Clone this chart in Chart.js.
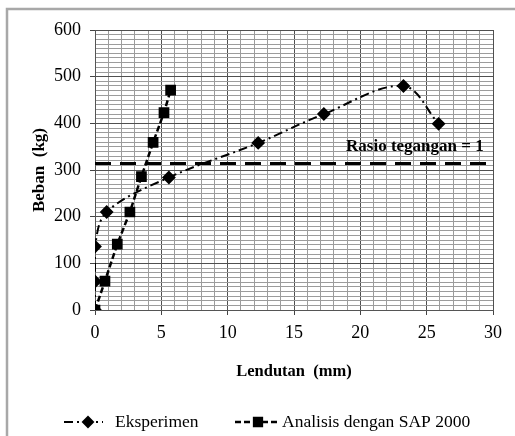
<!DOCTYPE html>
<html>
<head>
<meta charset="utf-8">
<script src="https://cdn.jsdelivr.net/npm/chart.js@4.4.0/dist/chart.umd.min.js"></script>
<style>
  html, body { margin: 0; padding: 0; background: #fff; }
  #wrap { position: relative; width: 515px; height: 436px; }
  canvas { display: block; }
</style>
</head>
<body>
<div id="wrap"><canvas id="c" width="515" height="436"></canvas></div>
<script>
// ---- data ----
const eksX = [0, 0, 0, 0.88, 5.57, 12.3, 17.25, 23.25, 25.9];
const eksY = [0, 61, 136, 210, 284, 358, 420, 480, 399];
const sapX = [0, 0.75, 1.68, 2.63, 3.5, 4.38, 5.2, 5.7];
const sapY = [0, 62, 141, 210, 286, 359, 423, 471];
const rasioX = [0, 30];
const rasioY = [314, 314];
const xTickLabels = [0, 5, 10, 15, 20, 25, 30];
const yTickLabels = [0, 100, 200, 300, 400, 500, 600];
const seriesNames = ['Eksperimen', 'Analisis dengan SAP 2000'];
const rasioLabel = 'Rasio tegangan = 1';
const xTitle = 'Lendutan  (mm)';
const yTitle = 'Beban  (kg)';

const toPts = (xs, ys) => xs.map((x, i) => ({ x: x, y: ys[i] }));

const SERIF = '"Liberation Serif", "Times New Roman", serif';
const EKS_DASH = [9, 4, 2, 4];
const SAP_DASH = [6, 3];

const decorPlugin = {
  id: 'decor',
  beforeDraw(chart) {
    const ctx = chart.ctx;
    ctx.save();
    ctx.fillStyle = '#fff';
    ctx.fillRect(0, 0, chart.width, chart.height);
    ctx.strokeStyle = '#a8a8a8';
    ctx.lineWidth = 2.5;
    ctx.beginPath();
    ctx.moveTo(7, 440);
    ctx.lineTo(7, 9);
    ctx.lineTo(520, 9);
    ctx.stroke();
    ctx.restore();
  },
  afterDatasetsDraw(chart) {
    const ctx = chart.ctx;
    const xs = chart.scales.x, ys = chart.scales.y;
    ctx.save();
    ctx.font = 'bold 17px ' + SERIF;
    ctx.fillStyle = '#000';
    ctx.textAlign = 'right';
    ctx.textBaseline = 'middle';
    ctx.fillText(rasioLabel, xs.getPixelForValue(29.3), ys.getPixelForValue(rasioY[0]) - 17);
    ctx.restore();
  },
  afterDraw(chart) {
    const ctx = chart.ctx;
    const ly = 422;
    const items = [
      { x0: 64, x1: 103, mx: 88, tx: 115, dash: EKS_DASH, w: 2, style: 'rectRot', r: 5 },
      { x0: 235, x1: 278, mx: 258, tx: 282, dash: SAP_DASH, w: 2.5, style: 'rect', r: 5.5 }
    ];
    ctx.save();
    items.forEach((it, i) => {
      ctx.strokeStyle = '#000';
      ctx.lineWidth = it.w;
      ctx.setLineDash(it.dash);
      ctx.beginPath();
      ctx.moveTo(it.x0, ly);
      ctx.lineTo(it.x1, ly);
      ctx.stroke();
      ctx.setLineDash([]);
      Chart.helpers.drawPoint(ctx, { pointStyle: it.style, radius: it.r, borderWidth: 1 }, it.mx, ly);
      ctx.fillStyle = '#000';
      ctx.fill();
      ctx.font = '17.5px ' + SERIF;
      ctx.textAlign = 'left';
      ctx.textBaseline = 'middle';
      ctx.fillText(seriesNames[i], it.tx, ly);
    });
    ctx.restore();
  }
};

new Chart(document.getElementById('c'), {
  type: 'line',
  data: {
    datasets: [
      {
        label: seriesNames[0],
        data: toPts(eksX, eksY),
        borderColor: '#000',
        backgroundColor: '#000',
        borderWidth: 2,
        borderDash: EKS_DASH,
        tension: 0.35,
        pointStyle: 'rectRot',
        pointRadius: 5.5,
        pointBackgroundColor: '#000',
        pointBorderColor: '#000',
        fill: false,
        order: 1
      },
      {
        label: seriesNames[1],
        data: toPts(sapX, sapY),
        borderColor: '#000',
        backgroundColor: '#000',
        borderWidth: 2.5,
        borderDash: SAP_DASH,
        tension: 0,
        pointStyle: 'rect',
        pointRadius: 5.8,
        pointBackgroundColor: '#000',
        pointBorderColor: '#000',
        fill: false,
        order: 0
      },
      {
        label: 'rasio',
        data: toPts(rasioX, rasioY),
        borderColor: '#000',
        borderWidth: 3,
        borderDash: [16, 9],
        pointRadius: 0,
        fill: false,
        order: 2
      }
    ]
  },
  options: {
    responsive: false,
    animation: false,
    devicePixelRatio: 1,
    layout: { padding: { left: 0, top: 30, right: 22, bottom: 51 } },
    plugins: {
      legend: { display: false },
      tooltip: { enabled: false }
    },
    scales: {
      x: {
        type: 'linear',
        min: 0, max: 30,
        afterFit(s) { s.height = 75; },
        border: { color: '#555', width: 1 },
        grid: {
          color: c => (c.tick && c.tick.value % 5 === 0) ? '#505050' : '#9c9c9c',
          tickColor: c => (c.tick && c.tick.value % 5 === 0) ? '#444' : 'rgba(0,0,0,0)',
          tickLength: 5,
          lineWidth: 1
        },
        ticks: {
          stepSize: 1,
          maxTicksLimit: 1000,
          autoSkip: false,
          maxRotation: 0,
          padding: 7,
          color: '#000',
          font: { family: SERIF, size: 18 },
          callback: v => xTickLabels.includes(v) ? String(v) : ''
        },
        title: {
          display: true,
          text: xTitle,
          color: '#000',
          font: { family: SERIF, size: 16.5, weight: 'bold' },
          padding: { top: 0, bottom: 3 }
        }
      },
      y: {
        type: 'linear',
        min: 0, max: 600,
        afterFit(s) { s.width = 95; },
        border: { color: '#555', width: 1 },
        grid: {
          color: c => (c.tick && c.tick.value % 100 === 0) ? '#505050' : '#9c9c9c',
          tickColor: c => (c.tick && c.tick.value % 100 === 0) ? '#444' : 'rgba(0,0,0,0)',
          tickLength: 5,
          lineWidth: 1
        },
        ticks: {
          stepSize: 10,
          maxTicksLimit: 1000,
          autoSkip: false,
          padding: 9,
          color: '#000',
          font: { family: SERIF, size: 18 },
          callback: v => yTickLabels.includes(v) ? String(v) : ''
        },
        title: {
          display: true,
          text: yTitle,
          color: '#000',
          font: { family: SERIF, size: 17, weight: 'bold' },
          padding: { top: 29, bottom: 0 }
        }
      }
    }
  },
  plugins: [decorPlugin]
});
</script>
</body>
</html>
